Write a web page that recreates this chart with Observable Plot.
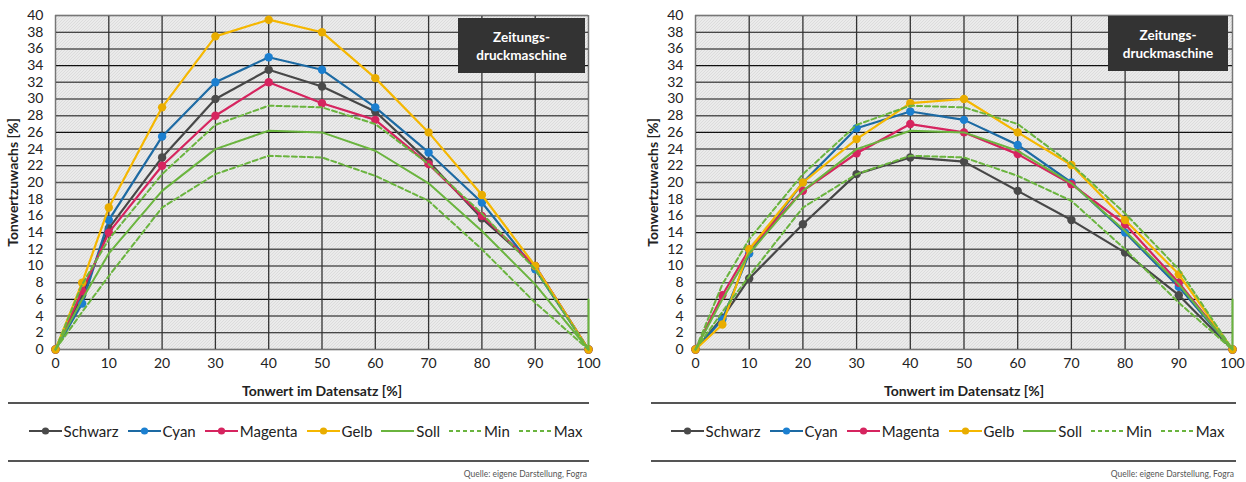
<!DOCTYPE html>
<html>
<head>
<meta charset="utf-8">
<script src="https://cdn.jsdelivr.net/npm/d3@7"></script>
<script src="https://cdn.jsdelivr.net/npm/@observablehq/plot@0.6"></script>
<style>
  html, body { margin: 0; padding: 0; background: #fff; }
  body { font-family: Lato, "Noto Sans", sans-serif; color: #222; }
  #wrap { position: relative; width: 1246px; height: 482px; overflow: hidden; }
  .panel { position: absolute; top: 0; }
  .panel svg { display: block; }
  [aria-label$="axis label"] { font-weight: 700; }
  .badge { position: absolute; background: #333; color: #fff; font-weight: 700; font-size: 13.5px;
           line-height: 18px; text-align: center; display: flex; align-items: center; justify-content: center; }
  .sep { position: absolute; height: 0; border-top: 2px solid #555; }
  .legend { position: absolute; display: flex; justify-content: center; align-items: center; gap: 9px;
            font-size: 15px; height: 20px; }
  .legend .item { display: flex; align-items: center; gap: 2px; }
  .source { position: absolute; font-size: 8.5px; color: #555; text-align: right; }
</style>
</head>
<body>
<svg width="0" height="0" style="position:absolute">
  <defs>
    <pattern id="hatch" patternUnits="userSpaceOnUse" width="3" height="3">
      <rect width="3" height="3" fill="#fafafa"></rect>
      <path d="M-1,1 L1,-1 M0,3 L3,0 M2,4 L4,2" stroke="#b8b8b8" stroke-width="0.9"></path>
    </pattern>
  </defs>
</svg>
<div id="wrap"></div>
<script>
// ---- data ----
const tonwert = [0, 5, 10, 20, 30, 40, 50, 60, 70, 80, 90, 100];

// left chart
const schwarzL = [0, 6.5, 14.5, 23, 30, 33.5, 31.5, 28.5, 22.5, 15.7, 10, 0];
const cyanL    = [0, 5.5, 15.5, 25.5, 32, 35, 33.5, 29, 23.6, 17.6, 9.6, 0];
const magentaL = [0, 7, 14, 22, 28, 32, 29.5, 27.5, 22.2, 16, 10, 0];
const gelbL    = [0, 8, 17, 29, 37.5, 39.5, 38, 32.5, 26, 18.5, 10, 0];

// right chart
const schwarzR = [0, 3.8, 8.5, 15, 21, 23, 22.5, 19, 15.5, 11.6, 6.5, 0];
const cyanR    = [0, 3.6, 11.5, 20, 26.5, 28.5, 27.5, 24.5, 20, 14, 7.5, 0];
const magentaR = [0, 6.5, 12, 19, 23.5, 27, 26, 23.4, 19.8, 15, 8, 0];
const gelbR    = [0, 3, 12, 20, 25.2, 29.5, 30, 26, 22.1, 15.5, 9, 0];

// tolerances (both charts)
const sollX = [0, 5, 10, 20, 30, 40, 50, 60, 70, 80, 90, 100, 100];
const soll  = [0, 6, 11.5, 19, 24, 26.2, 26, 23.8, 19.9, 14.2, 7.8, 0, 6];
const minT  = [0, 4.5, 8.8, 17, 21, 23.2, 23, 20.8, 17.8, 12, 5.6, 0];
const maxT  = [0, 7.8, 13.2, 21, 26.9, 29.2, 29, 27, 22.2, 16.3, 9.6, 0];

const xTicks = [0, 10, 20, 30, 40, 50, 60, 70, 80, 90, 100];
const yTicks = [0, 2, 4, 6, 8, 10, 12, 14, 16, 18, 20, 22, 24, 26, 28, 30, 32, 34, 36, 38, 40];

const seriesNames = ["Schwarz", "Cyan", "Magenta", "Gelb", "Soll", "Min", "Max"];
const lineColors = {Schwarz: "#474747", Cyan: "#1d6aa3", Magenta: "#d6245f", Gelb: "#f5b700", Green: "#6ab43e"};
const dotColors  = {Schwarz: "#4a4a4a", Cyan: "#1b7fd0", Magenta: "#d6245f", Gelb: "#e9ad00"};

const badgeText = ["Zeitungs-", "druckmaschine"];
const xLabel = "Tonwert im Datensatz [%]";
const yLabel = "Tonwertzuwachs [%]";
const sourceText = "Quelle: eigene Darstellung, Fogra";

function pts(xs, ys) { return xs.map((x, i) => ({x, y: ys[i]})); }

function makePlot(cols, width, marginRight) {
  const colored = [
    ["Schwarz", cols[0]], ["Cyan", cols[1]], ["Magenta", cols[2]], ["Gelb", cols[3]]
  ];
  const marks = [
    Plot.frame({fill: "url(#hatch)", stroke: null}),
    Plot.ruleY(yTicks.filter(v => v % 4 === 0), {stroke: "#555", strokeWidth: 1.5}),
    Plot.ruleY(yTicks.filter(v => v % 4 === 2), {stroke: "#111", strokeWidth: 1.1}),
    Plot.ruleX(xTicks, {stroke: "#333", strokeWidth: 1.3}),
    Plot.frame({stroke: "#777", strokeWidth: 1}),
    Plot.axisX({ticks: xTicks, tickSize: 0, tickPadding: 9, label: xLabel, labelAnchor: "center",
                labelArrow: "none", labelOffset: 46}),
    Plot.axisY({ticks: yTicks, tickSize: 0, tickPadding: 12, label: yLabel, labelAnchor: "center",
                labelArrow: "none", labelOffset: 47})
  ];
  for (const [name, vals] of colored) {
    const d = pts(tonwert, vals);
    marks.push(Plot.line(d, {x: "x", y: "y", stroke: lineColors[name], strokeWidth: 2.2}));
    marks.push(Plot.dot(d, {x: "x", y: "y", fill: dotColors[name], r: 4.2, stroke: null}));
  }
  marks.push(Plot.line(pts(sollX, soll), {x: "x", y: "y", stroke: lineColors.Green, strokeWidth: 2}));
  marks.push(Plot.line(pts(tonwert, minT), {x: "x", y: "y", stroke: lineColors.Green, strokeWidth: 2, strokeDasharray: "5,3"}));
  marks.push(Plot.line(pts(tonwert, maxT), {x: "x", y: "y", stroke: lineColors.Green, strokeWidth: 2, strokeDasharray: "5,3"}));

  return Plot.plot({
    width, height: 400,
    marginLeft: 55, marginRight, marginTop: 15, marginBottom: 51,
    x: {domain: [0, 100]},
    y: {domain: [0, 40]},
    style: {fontFamily: "Lato, 'Noto Sans', sans-serif", fontSize: "14px", color: "#222", background: "transparent", overflow: "visible"},
    marks
  });
}

function legend() {
  const el = document.createElement("div");
  for (const name of seriesNames) {
    const item = document.createElement("div");
    item.className = "item";
    const isGreen = name === "Soll" || name === "Min" || name === "Max";
    const col = isGreen ? lineColors.Green : lineColors[name];
    const dash = (name === "Min" || name === "Max") ? 'stroke-dasharray="4,3"' : "";
    const dot = isGreen ? "" : `<circle cx="16.5" cy="5" r="3.6" fill="${dotColors[name]}"></circle>`;
    item.innerHTML = `<svg width="33" height="10"><line x1="0" x2="33" y1="5" y2="5" stroke="${col}" stroke-width="2" ${dash}></line>${dot}</svg><span>${name}</span>`;
    el.appendChild(item);
  }
  return el;
}

const wrap = document.getElementById("wrap");
const panels = [
  {left: 0, width: 620, mr: 32, cols: [schwarzL, cyanL, magentaL, gelbL], badge: [458, 18, 127, 55], sep: [8, 589], lgShift: 7},
  {left: 640, width: 606, mr: 14, cols: [schwarzR, cyanR, magentaR, gelbR], badge: [1108, 16, 120, 55], sep: [651, 1236], lgShift: 4}
];
for (const p of panels) {
  const div = document.createElement("div");
  div.className = "panel";
  div.style.left = p.left + "px";
  div.appendChild(makePlot(p.cols, p.width, p.mr));
  wrap.appendChild(div);

  const b = document.createElement("div");
  b.className = "badge";
  Object.assign(b.style, {left: p.badge[0] + "px", top: p.badge[1] + "px", width: p.badge[2] + "px", height: p.badge[3] + "px"});
  b.innerHTML = badgeText.join("<br>");
  wrap.appendChild(b);

  for (const y of [402, 460]) {
    const s = document.createElement("div");
    s.className = "sep";
    Object.assign(s.style, {left: p.sep[0] + "px", top: y + "px", width: (p.sep[1] - p.sep[0]) + "px"});
    wrap.appendChild(s);
  }
  const lg = legend();
  lg.className = "legend";
  Object.assign(lg.style, {left: (p.sep[0] + p.lgShift) + "px", top: "421px", width: (p.sep[1] - p.sep[0]) + "px"});
  wrap.appendChild(lg);

  const src = document.createElement("div");
  src.className = "source";
  src.textContent = sourceText;
  Object.assign(src.style, {left: (p.sep[1] - 300) + "px", top: "469px", width: "298px"});
  wrap.appendChild(src);
}
</script>
</body>
</html>
